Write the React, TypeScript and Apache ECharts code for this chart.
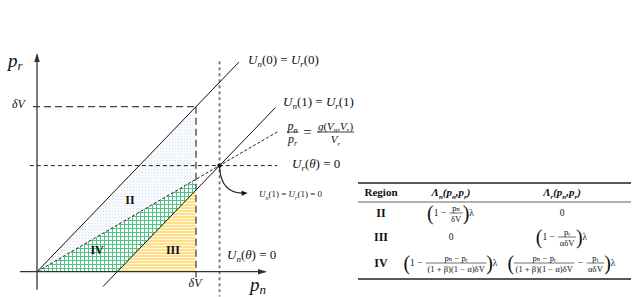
import React, { useEffect, useRef } from "react";
import * as echarts from "echarts";

// ---------------- data (coordinates in units of δV) ----------------
const xAxisSeg = [[-0.107, 0], [1.434, 0]];
const yAxisSeg = [[0, -0.11], [0, 1.313]];
const indiff0 = [[0, 0], [1.27, 1.27]]; // U_n(0) = U_r(0)
const indiff1 = [[0.415, -0.09], [1.5, 0.995]]; // U_n(1) = U_r(1)
const ratioSeg = [[0, 0], [1.52, 0.852]]; // p_n/p_r = g/V_r
const dvHSeg = [[-0.025, 1], [1, 1]];
const dvVSeg = [[1, 1], [1, -0.035]];
const thetaHSeg = [[-0.045, 0.643], [1.51, 0.643]]; // U_r(θ) = 0
const thetaVSeg = [[1.148, 1.275], [1.148, -0.15]]; // U_n(θ) = 0
const thetaPoint = [1.148, 0.643];
const curveArrow = [[1.148, 0.636], [1.157, 0.47], [1.325, 0.477]];
const regionII = [[0, 0], [1, 1], [1, 0.56]];
const regionIV = [[0, 0], [1, 0.56], [1, 0.495], [0.505, 0]];
const regionIII = [[0.505, 0], [1, 0.495], [1, 0]];
const regionNames = ["II", "IV", "III"];
const regionLabelPos = [[0.585, 0.435], [0.378, 0.131], [0.855, 0.131]];

// table
const tableRegions = ["II", "III", "IV"];
type Tok = { t: string } | { num: string; den: string } | { open: true } | { close: true };
const lambdaN: Tok[][] = [
  [{ open: true }, { t: "1 − " }, { num: "pₙ", den: "δV" }, { close: true }, { t: "λ" }],
  [{ t: "0" }],
  [{ open: true }, { t: "1 − " }, { num: "pₙ − pᵣ", den: "(1 + β)(1 − α)δV" }, { close: true }, { t: "λ" }],
];
const lambdaR: Tok[][] = [
  [{ t: "0" }],
  [{ open: true }, { t: "1 − " }, { num: "pᵣ", den: "αδV" }, { close: true }, { t: "λ" }],
  [{ open: true }, { num: "pₙ − pᵣ", den: "(1 + β)(1 − α)δV" }, { t: " − " }, { num: "pᵣ", den: "αδV" }, { close: true }, { t: "λ" }],
];

// ---------------- helpers ----------------
const SERIF = '"Liberation Serif", "DejaVu Serif", serif';
const INK = "#111";

let mctx: CanvasRenderingContext2D | null = null;
function tw(text: string, size: number, weight = "normal", style = "normal") {
  if (!mctx) mctx = document.createElement("canvas").getContext("2d");
  mctx!.font = `${style} ${weight} ${size}px "Liberation Serif"`;
  return mctx!.measureText(text).width;
}

function mathRich(size: number, bold = false) {
  const sub = Math.round(size * 0.68);
  const w = bold ? "bold" : "normal";
  return {
    i: { fontFamily: SERIF, fontStyle: "italic", fontWeight: w, fontSize: size, lineHeight: size + 5, fill: INK, color: INK },
    r: { fontFamily: SERIF, fontStyle: "normal", fontWeight: w, fontSize: size, lineHeight: size + 5, fill: INK, color: INK },
    s: { fontFamily: SERIF, fontStyle: "italic", fontWeight: w, fontSize: sub, lineHeight: sub, verticalAlign: "bottom", fill: INK, color: INK },
  };
}

function txt(x: number, y: number, text: string, o: any = {}) {
  const align = o.align || "left";
  return {
    type: "text",
    x,
    y,
    silent: true,
    z: 50,
    style: {
      text,
      fill: o.fill || INK,
      font: o.font || `normal ${o.size || 12}px ${SERIF}`,
      align,
      textAlign: align,
      verticalAlign: "middle",
      textVerticalAlign: "middle",
      rich: o.rich,
    },
  };
}

function hline(x1: number, x2: number, y: number, w: number, color = "#222") {
  return { type: "line", silent: true, z: 50, shape: { x1, y1: y, x2, y2: y }, style: { stroke: color, lineWidth: w } };
}

function expr(tokens: Tok[], cx: number, cy: number, out: any[]) {
  const TS = 9.5;
  const FS = 8.6;
  const gap = 1;
  const widths = tokens.map((tk: any) => {
    if ("num" in tk) return Math.max(tw(tk.num, FS), tw(tk.den, FS)) + 3;
    if ("open" in tk || "close" in tk) return 4.5;
    return tw(tk.t, TS);
  });
  const total = widths.reduce((a, b) => a + b, 0) + gap * (tokens.length - 1);
  let x = cx - total / 2;
  tokens.forEach((tk: any, i) => {
    const w = widths[i];
    if ("num" in tk) {
      out.push(txt(x + w / 2, cy - 5.5, tk.num, { align: "center", size: FS }));
      out.push(hline(x, x + w, cy, 0.6, INK));
      out.push(txt(x + w / 2, cy + 6, tk.den, { align: "center", size: FS }));
    } else if ("open" in tk || "close" in tk) {
      out.push(txt(x + w / 2, cy, "open" in tk ? "(" : ")", { align: "center", font: `normal 20px ${SERIF}` }));
    } else {
      out.push(txt(x, cy, tk.t, { size: TS, font: `normal ${TS}px ${SERIF}` }));
    }
    x += w + gap;
  });
}

function makePattern(kind: string) {
  const c = document.createElement("canvas");
  const g = c.getContext("2d")!;
  if (kind === "dots") {
    c.width = 3;
    c.height = 3;
    g.fillStyle = "#f8fafd";
    g.fillRect(0, 0, 3, 3);
    g.fillStyle = "#d6e0f0";
    g.fillRect(1, 1, 1, 1);
  } else if (kind === "grid") {
    c.width = 4;
    c.height = 4;
    g.fillStyle = "#ffffff";
    g.fillRect(0, 0, 4, 4);
    g.fillStyle = "#4fc486";
    g.fillRect(0, 0, 4, 1);
    g.fillRect(0, 0, 1, 4);
  } else {
    c.width = 4;
    c.height = 3;
    g.fillStyle = "#ffe08a";
    g.fillRect(0, 0, 4, 3);
    g.fillStyle = "#fff8e6";
    g.fillRect(0, 2, 4, 1);
  }
  return { image: c, repeat: "repeat", imageWidth: c.width, imageHeight: c.height };
}

function polySeries(points: number[][], fill: any, z: number) {
  return {
    type: "custom",
    coordinateSystem: "cartesian2d",
    data: [[0, 0]],
    silent: true,
    clip: false,
    z,
    renderItem: (_p: any, api: any) => ({
      type: "polygon",
      shape: { points: points.map((p) => api.coord(p)) },
      style: { fill, stroke: "none" },
    }),
  };
}

function segSeries(points: number[][], stroke: string, width: number, dash: any, z: number, arrow = false) {
  return {
    type: "custom",
    coordinateSystem: "cartesian2d",
    data: [[0, 0]],
    silent: true,
    clip: false,
    z,
    renderItem: (_p: any, api: any) => {
      const pts = points.map((p) => api.coord(p));
      const children: any[] = [
        { type: "polyline", shape: { points: pts }, style: { stroke, lineWidth: width, lineDash: dash, fill: "none" } },
      ];
      if (arrow) {
        const a = pts[pts.length - 2];
        const b = pts[pts.length - 1];
        const dx = b[0] - a[0];
        const dy = b[1] - a[1];
        const L = Math.hypot(dx, dy);
        const ux = dx / L;
        const uy = dy / L;
        const len = 7;
        const hw = 2.8;
        children.push({
          type: "polygon",
          shape: {
            points: [
              [b[0] + ux * 2, b[1] + uy * 2],
              [b[0] - ux * len - uy * hw, b[1] - uy * len + ux * hw],
              [b[0] - ux * len + uy * hw, b[1] - uy * len - ux * hw],
            ],
          },
          style: { fill: stroke },
        });
      }
      return { type: "group", children };
    },
  };
}

function curveSeries(z: number) {
  return {
    type: "custom",
    coordinateSystem: "cartesian2d",
    data: [[0, 0]],
    silent: true,
    clip: false,
    z,
    renderItem: (_p: any, api: any) => {
      const [s, c, e] = curveArrow.map((p) => api.coord(p));
      const dx = e[0] - c[0];
      const dy = e[1] - c[1];
      const L = Math.hypot(dx, dy);
      const ux = dx / L;
      const uy = dy / L;
      const len = 6;
      const hw = 2.6;
      return {
        type: "group",
        children: [
          {
            type: "bezierCurve",
            shape: { x1: s[0], y1: s[1], x2: e[0] - ux * 3, y2: e[1] - uy * 3, cpx1: c[0], cpy1: c[1] },
            style: { stroke: "#111", lineWidth: 1.1, fill: "none" },
          },
          {
            type: "polygon",
            shape: {
              points: [
                [e[0], e[1]],
                [e[0] - ux * len - uy * hw, e[1] - uy * len + ux * hw],
                [e[0] - ux * len + uy * hw, e[1] - uy * len - ux * hw],
              ],
            },
            style: { fill: "#111" },
          },
        ],
      };
    },
  };
}

function pointSeries(z: number) {
  return {
    type: "custom",
    coordinateSystem: "cartesian2d",
    data: [[0, 0]],
    silent: true,
    clip: false,
    z,
    renderItem: (_p: any, api: any) => {
      const c = api.coord(thetaPoint);
      return { type: "circle", shape: { cx: c[0], cy: c[1], r: 2.2 }, style: { fill: "#111" } };
    },
  };
}

function regionLabelSeries(z: number) {
  return {
    type: "custom",
    coordinateSystem: "cartesian2d",
    data: regionLabelPos.map((p, i) => [p[0], p[1], i]),
    silent: true,
    clip: false,
    z,
    renderItem: (params: any, api: any) => {
      const i = params.dataIndex;
      const c = api.coord(regionLabelPos[i]);
      return {
        type: "text",
        x: c[0],
        y: c[1],
        style: {
          text: regionNames[i],
          font: `bold 12px ${SERIF}`,
          fill: "#111",
          align: "center",
          verticalAlign: "middle",
          textAlign: "center",
          textVerticalAlign: "middle",
        },
      };
    },
  };
}

function buildGraphics() {
  const els: any[] = [];
  const R = (s: number, b = false) => mathRich(s, b);
  // axis names
  els.push(txt(8, 60, "{i|p}{s|r}", { rich: R(19) }));
  els.push(txt(250, 284, "{i|p}{s|n}", { rich: R(19) }));
  els.push(txt(12, 104, "{i|δV}", { rich: R(12) }));
  els.push(txt(195, 283, "{i|δV}", { rich: R(12), align: "center" }));
  // line labels
  els.push(txt(248, 59, "{i|U}{s|n}{r|(0) = }{i|U}{s|r}{r|(0)}", { rich: R(13) }));
  els.push(txt(283, 101, "{i|U}{s|n}{r|(1) = }{i|U}{s|r}{r|(1)}", { rich: R(13) }));
  els.push(txt(292, 163, "{i|U}{s|r}{r|(}{i|θ}{r|) = 0}", { rich: R(13) }));
  els.push(txt(227, 254, "{i|U}{s|n}{r|(}{i|θ}{r|) = 0}", { rich: R(13) }));
  els.push(txt(259, 194, "{i|U}{s|n}{r|(1) = }{i|U}{s|r}{r|(1) = 0}", { rich: R(9) }));
  // fraction label
  els.push(txt(292.5, 125.5, "{i|p}{s|n}", { rich: R(12), align: "center" }));
  els.push(hline(287, 298.5, 132, 0.8, INK));
  els.push(txt(292.5, 139, "{i|p}{s|r}", { rich: R(12), align: "center" }));
  els.push(txt(307.5, 132, "=", { size: 15, align: "center" }));
  els.push(txt(335.5, 125.5, "{i|g}{r|(}{i|V}{s|n}{r|,}{i|V}{s|r}{r|)}", { rich: R(11), align: "center" }));
  els.push(hline(317, 354, 132, 0.8, INK));
  els.push(txt(335.5, 139, "{i|V}{s|r}", { rich: R(11), align: "center" }));

  // table
  const colRegion = 381;
  const colN = 451;
  const colR = 562;
  els.push(hline(358, 631, 183, 1.4));
  els.push(hline(358, 631, 202, 0.7));
  els.push(hline(358, 631, 279, 1.4));
  els.push(txt(colRegion, 192, "Region", { font: `bold 11px ${SERIF}`, align: "center" }));
  const hb = R(11, true);
  els.push(txt(colN, 192, "{i|Λ}{s|n}{i|(p}{s|n}{i|,p}{s|r}{i|)}", { rich: hb, align: "center" }));
  els.push(txt(colR, 192, "{i|Λ}{s|r}{i|(p}{s|n}{i|,p}{s|r}{i|)}", { rich: hb, align: "center" }));
  const rowY = [213, 237, 263];
  tableRegions.forEach((r, i) => {
    els.push(txt(colRegion, rowY[i], r, { font: `bold 12px ${SERIF}`, align: "center" }));
    expr(lambdaN[i], colN, rowY[i], els);
    expr(lambdaR[i], colR, rowY[i], els);
  });
  return els;
}

export default function App() {
  const ref = useRef<HTMLDivElement>(null);
  useEffect(() => {
    if (!ref.current) return;
    const chart = echarts.init(ref.current, undefined, { renderer: "svg" });
    chart.setOption({
      animation: false,
      backgroundColor: "#ffffff",
      grid: { left: 37, top: 106.7, width: 159, height: 165 },
      xAxis: { type: "value", min: 0, max: 1, show: false },
      yAxis: { type: "value", min: 0, max: 1, show: false },
      series: [
        polySeries(regionII, makePattern("dots"), 1),
        polySeries(regionIV, makePattern("grid"), 1),
        polySeries(regionIII, makePattern("stripes"), 1),
        segSeries(dvHSeg, "#444", 1.3, [7, 4], 3),
        segSeries(dvVSeg, "#444", 1.3, [7, 4], 3),
        segSeries(thetaVSeg, "#777", 1.8, [3, 3], 3),
        segSeries(thetaHSeg, "#222", 1, [4, 3], 3),
        segSeries(ratioSeg, "#222", 1, [3, 2], 4),
        segSeries(indiff0, "#111", 1, null, 5),
        segSeries(indiff1, "#111", 1, null, 5),
        segSeries(xAxisSeg, "#333", 1.3, null, 6, true),
        segSeries(yAxisSeg, "#333", 1.3, null, 6, true),
        curveSeries(7),
        pointSeries(8),
        regionLabelSeries(9),
      ],
      graphic: { elements: buildGraphics() },
    });
    return () => chart.dispose();
  }, []);
  return (
    <div style={{ position: "absolute", left: 0, top: 0, width: 634, height: 297 }}>
      <div ref={ref} style={{ width: 634, height: 297 }} />
    </div>
  );
}
